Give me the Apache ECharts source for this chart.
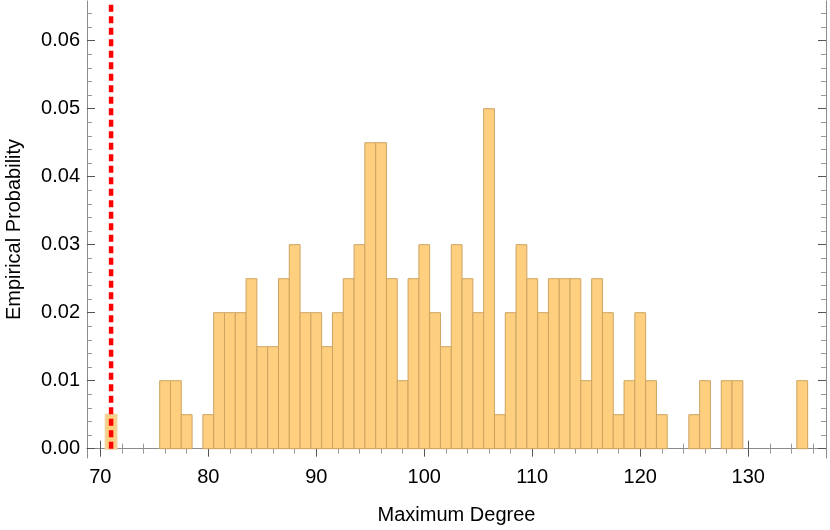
<!DOCTYPE html>
<html>
<head>
<meta charset="utf-8">
<script src="https://cdn.jsdelivr.net/npm/echarts@6/dist/echarts.min.js"></script>
<style>
  html, body { margin: 0; padding: 0; background: #fff; }
  #chart { width: 830px; height: 530px; }
</style>
</head>
<body>
<div id="chart"></div>
<script>
// histogram bins (width 1, centred on each degree)
var degrees = [71, 76, 77, 78, 80,
  81, 82, 83, 84, 85, 86, 87, 88, 89, 90,
  91, 92, 93, 94, 95, 96, 97, 98, 99, 100,
  101, 102, 103, 104, 105, 106, 107, 108, 109, 110,
  111, 112, 113, 114, 115, 116, 117, 118, 119, 120,
  121, 122, 125, 126, 128, 129, 135];
var probs = [0.005, 0.01, 0.01, 0.005, 0.005,
  0.02, 0.02, 0.02, 0.025, 0.015, 0.015, 0.025, 0.03, 0.02, 0.02,
  0.015, 0.02, 0.025, 0.03, 0.045, 0.045, 0.025, 0.01, 0.025, 0.03,
  0.02, 0.015, 0.03, 0.025, 0.02, 0.05, 0.005, 0.02, 0.03, 0.025,
  0.02, 0.025, 0.025, 0.025, 0.01, 0.025, 0.02, 0.005, 0.01, 0.02,
  0.01, 0.005, 0.005, 0.01, 0.01, 0.01, 0.01];

// red dashed reference line
var refDegree = 71;

// tick labels
var xTicks = [70, 80, 90, 100, 110, 120, 130];
var yTicks = [0, 0.01, 0.02, 0.03, 0.04, 0.05, 0.06];

var xMin = 68.77, xMax = 137.2;
var yMin = -0.00137, yMax = 0.06584;

var xMinor = [];
for (var i = 70; i <= 136; i += 2) if (i % 10 !== 0) xMinor.push(i);
var yMinor = [];
for (var j = 0; j <= 32; j++) if (j % 5 !== 0) yMinor.push(+(j * 0.002).toFixed(3));

var FONT = '"Liberation Sans", Arial, sans-serif';

function tickAxis(pos, values, len, color, extra) {
  var ax = {
    type: 'value', position: pos,
    axisLine: { show: false },
    axisTick: { show: true, inside: true, length: len, customValues: values,
      lineStyle: { color: color, width: 1 } },
    axisLabel: { show: false },
    splitLine: { show: false }
  };
  return Object.assign(ax, extra);
}

var chart = echarts.init(document.getElementById('chart'));

var xRange = { min: xMin, max: xMax };
var yRange = { min: yMin, max: yMax };

chart.setOption({
  animation: false,
  grid: { left: 87, right: 4, top: 1, bottom: 72, containLabel: false, outerBoundsMode: 'none' },
  xAxis: [
    Object.assign(tickAxis('bottom', xTicks, 8, '#555'), xRange, {
      axisLine: { show: true, lineStyle: { color: '#8c8c8c', width: 1 } },
      axisLabel: { show: true, customValues: xTicks, color: '#000',
        fontSize: 20, fontFamily: FONT, margin: 9 },
      name: 'Maximum Degree', nameLocation: 'middle', nameGap: 47,
      nameTextStyle: { fontSize: 20, fontFamily: FONT, color: '#000' }
    }),
    Object.assign(tickAxis('bottom', xMinor, 5, '#999'), xRange),
    Object.assign(tickAxis('top', xTicks, 8, '#555'), xRange, {
      axisLine: { show: true, lineStyle: { color: '#8c8c8c', width: 1 } }
    }),
    Object.assign(tickAxis('top', xMinor, 5, '#999'), xRange)
  ],
  yAxis: [
    Object.assign(tickAxis('left', yTicks, 8, '#555'), yRange, {
      axisLine: { show: true, lineStyle: { color: '#8c8c8c', width: 1 } },
      axisLabel: { show: true, customValues: yTicks, color: '#000',
        fontSize: 20, fontFamily: FONT, margin: 7,
        formatter: function (v) { return v.toFixed(2); } },
      name: 'Empirical Probability', nameLocation: 'middle', nameGap: 63,
      nameTextStyle: { fontSize: 20, fontFamily: FONT, color: '#000' }
    }),
    Object.assign(tickAxis('left', yMinor, 5, '#999'), yRange),
    Object.assign(tickAxis('right', yTicks, 8, '#555'), yRange, {
      axisLine: { show: true, lineStyle: { color: '#8c8c8c', width: 1 } }
    }),
    Object.assign(tickAxis('right', yMinor, 5, '#999'), yRange)
  ],
  series: [
    {
      type: 'custom',
      xAxisIndex: 0, yAxisIndex: 0,
      data: degrees.map(function (d, k) { return [d, probs[k]]; }),
      renderItem: function (params, api) {
        var v = api.value(0), p = api.value(1);
        var a = api.coord([v - 0.5, p]);
        var b = api.coord([v + 0.5, 0]);
        var hi = v === refDegree;
        return {
          type: 'rect',
          shape: { x: a[0], y: a[1], width: b[0] - a[0], height: b[1] - a[1] },
          style: { fill: '#FECF7F', stroke: hi ? '#F2D39C' : '#CDA462', lineWidth: hi ? 2 : 1 }
        };
      }
    },
    {
      type: 'line',
      xAxisIndex: 0, yAxisIndex: 0,
      data: [[refDegree, 0], [refDegree, yMax]],
      showSymbol: false, symbol: 'none',
      lineStyle: { color: '#FF0000', width: 4.5, type: [7, 4.5] },
      z: 5
    }
  ]
});
</script>
</body>
</html>
